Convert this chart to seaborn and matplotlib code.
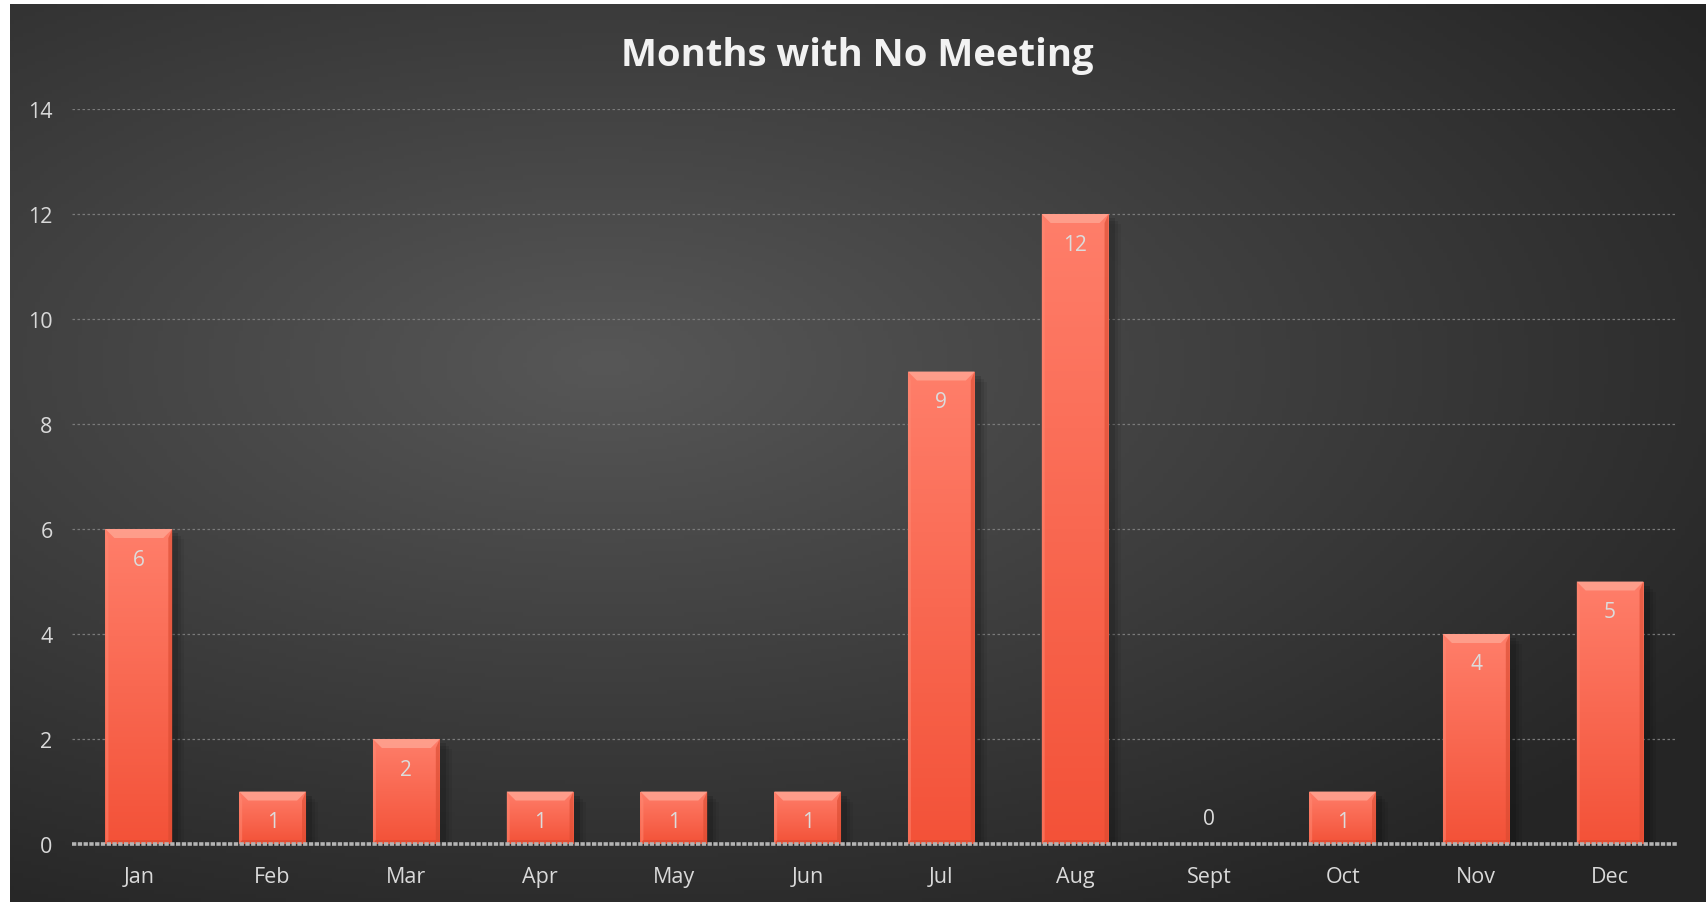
import numpy as np
import matplotlib
matplotlib.use("Agg")
import matplotlib.pyplot as plt
import seaborn as sns
from matplotlib.patches import Polygon, Rectangle

months = ["Jan", "Feb", "Mar", "Apr", "May", "Jun", "Jul", "Aug", "Sept", "Oct", "Nov", "Dec"]
no_meeting = [6, 1, 2, 1, 1, 1, 9, 12, 0, 1, 4, 5]
y_ticks = [0, 2, 4, 6, 8, 10, 12, 14]
title = "Months with No Meeting"

sns.set_theme(style="dark")
plt.rcParams["font.family"] = ["Open Sans", "DejaVu Sans"]

W, H = 1708, 903
fig = plt.figure(figsize=(W / 100, H / 100), dpi=100)
fig.patch.set_facecolor("white")

# dark radial gradient background of the chart frame
bg = fig.add_axes([10 / W, 0, 1696 / W, 898 / H])
bg.set_axis_off()
gx, gy = np.meshgrid(np.linspace(0, 1, 400), np.linspace(0, 1, 220))
r = np.sqrt(((gx - 0.35) * 1.0) ** 2 + ((gy - 0.40) * 1.1) ** 2)
r = np.clip(r / 0.78, 0, 1)
c0, c1 = np.array([0x57, 0x57, 0x57]) / 255, np.array([0x25, 0x25, 0x25]) / 255
img = c0[None, None, :] * (1 - r[..., None]) + c1[None, None, :] * r[..., None]
bg.imshow(img, extent=[0, 1, 0, 1], aspect="auto", origin="upper")
bg.set_xlim(0, 1)
bg.set_ylim(0, 1)

ax = fig.add_axes([72 / W, 58 / H, 1605 / W, 735 / H])
ax.patch.set_alpha(0)

sns.barplot(x=months, y=no_meeting, color="#fa5a3e", width=0.5, ax=ax,
            saturation=1, linewidth=0, zorder=3)

ax.set_ylim(0, 14)
ax.set_xlim(-0.5, len(months) - 0.5)
ax.set_yticks(y_ticks)
ax.set_xlabel("")
ax.set_ylabel("")
for s in ax.spines.values():
    s.set_visible(False)
ax.grid(False)
for t in y_ticks[1:]:
    ax.axhline(t, color="#7a7a7a", lw=0.9, ls=(0, (2, 2)), zorder=1)
ax.axhline(0, color="#b4b4b4", lw=2.6, ls=(0, (1.2, 0.4)), zorder=5, clip_on=False)

ax.tick_params(axis="both", colors="#d9d9d9", labelsize=15.5, length=0)
ax.tick_params(axis="y", pad=14)
ax.tick_params(axis="x", pad=16)

# bar gradients, bevels, shadows
grad = np.linspace(0, 1, 100)[:, None]
top_c = np.array([0xff, 0x7e, 0x6a]) / 255
bot_c = np.array([0xf3, 0x52, 0x38]) / 255
bar_img = top_c[None, None, :] * (1 - grad[..., None]) + bot_c[None, None, :] * grad[..., None]
bar_img = np.repeat(bar_img, 2, axis=1)
px_y = 735 / 14
px_x = 1605 / 12
for p, v in zip(ax.patches, no_meeting):
    x0, w, h = p.get_x(), p.get_width(), p.get_height()
    if h <= 0:
        continue
    for k, a in [(10, 0.06), (7, 0.08), (4, 0.12)]:
        ax.add_patch(Rectangle((x0 + 2 / px_x, -k / px_y), w + k / px_x, h, color="black",
                               alpha=a, lw=0, zorder=2))
    im = ax.imshow(bar_img, extent=[x0, x0 + w, 0, h], aspect="auto", zorder=3.5)
    im.set_clip_path(p)
    dx, dy = 9 / px_x, 9 / px_y
    dy = min(dy, h / 3)
    ax.add_patch(Polygon([(x0, h), (x0 + w, h), (x0 + w - dx, h - dy), (x0 + dx, h - dy)],
                         closed=True, color="#ffa391", lw=0, alpha=0.85, zorder=4))
    ax.add_patch(Polygon([(x0 + w, h), (x0 + w, 0), (x0 + w - 4 / px_x, 4 / px_y),
                          (x0 + w - 4 / px_x, h - dy)],
                         closed=True, color="#d94a30", lw=0, alpha=0.6, zorder=4))
    ax.add_patch(Polygon([(x0, h), (x0, 0), (x0 + 3 / px_x, 4 / px_y), (x0 + 3 / px_x, h - dy)],
                         closed=True, color="#ff8a74", lw=0, alpha=0.5, zorder=4))
    ax.add_patch(Polygon([(x0, 0), (x0 + w, 0), (x0 + w - 4 / px_x, 4 / px_y), (x0 + 3 / px_x, 4 / px_y)],
                         closed=True, color="#d94a30", lw=0, alpha=0.6, zorder=4))

for i, v in enumerate(no_meeting):
    off = -30 if v > 0 else 25
    ax.annotate(str(v), (i, v), xytext=(0, off), textcoords="offset pixels",
                ha="center", va="center", color="#dcdcdc", fontsize=15, zorder=6)

fig.text(857 / W, 1 - 56 / H, title, ha="center", va="center", color="#f2f2f2",
         fontsize=27.5, fontweight="bold")

fig.savefig("out.png", dpi=100, facecolor=fig.get_facecolor())
